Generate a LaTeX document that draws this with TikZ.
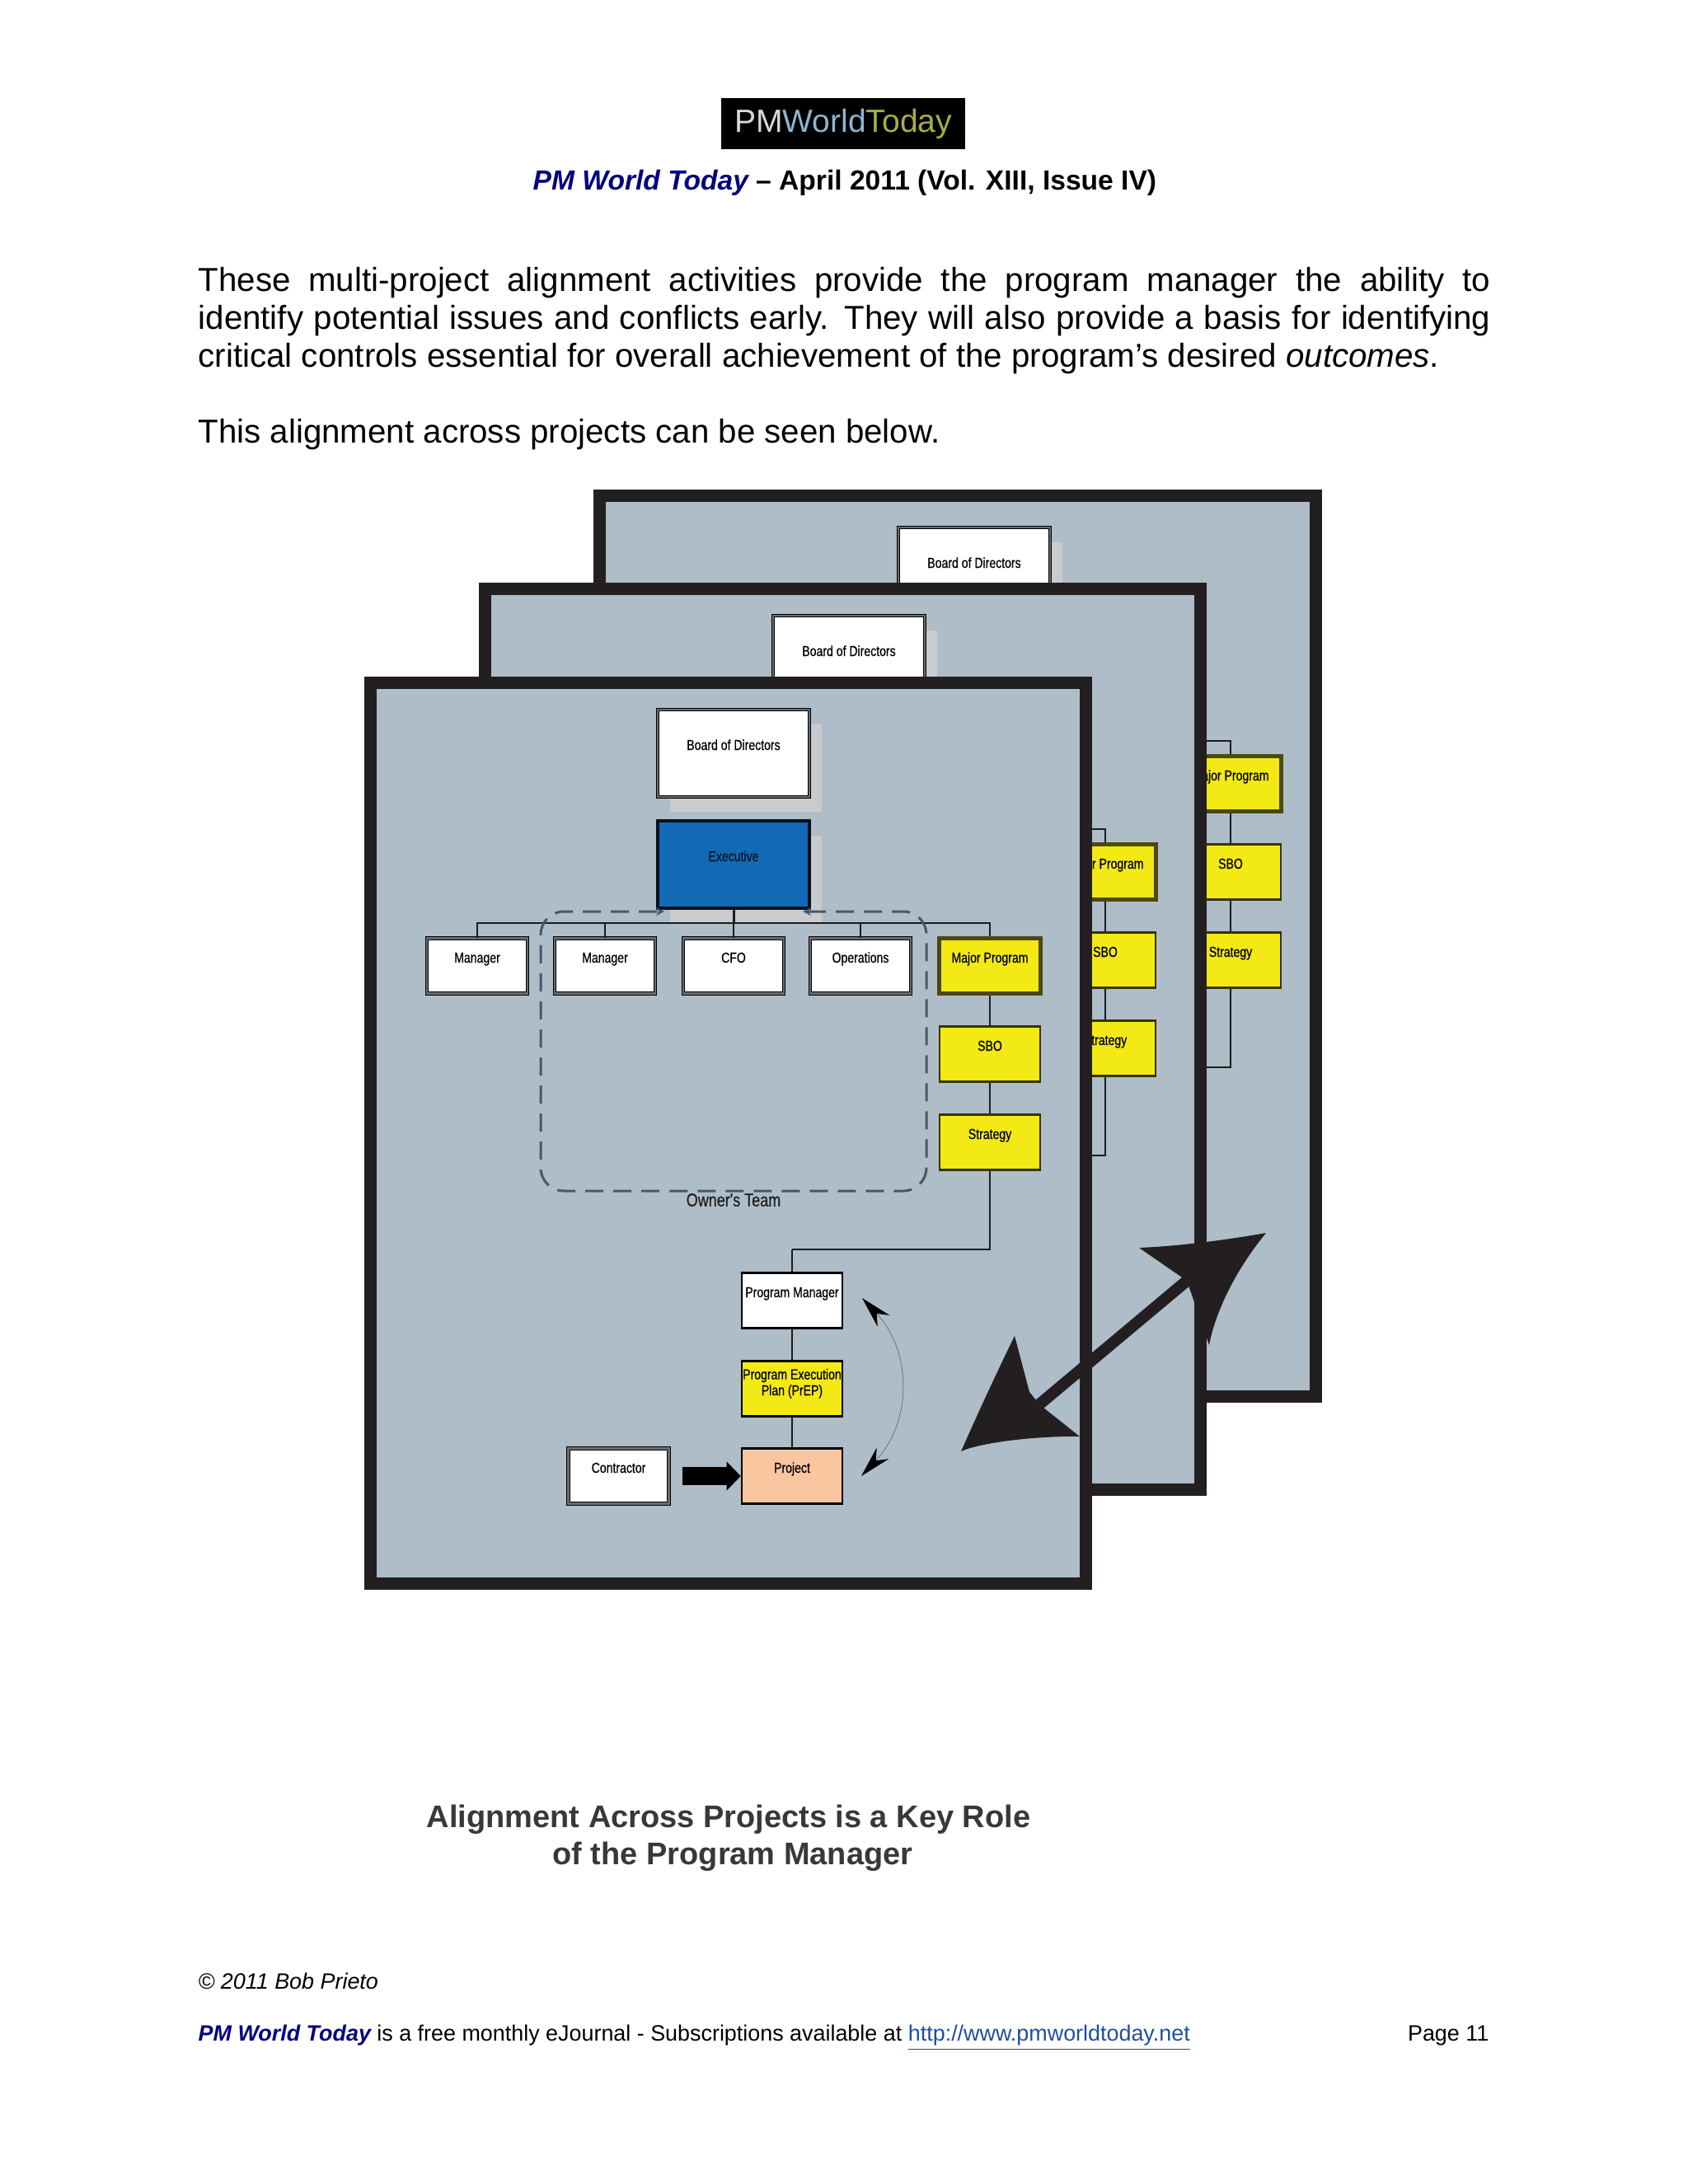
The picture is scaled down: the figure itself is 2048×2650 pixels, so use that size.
\documentclass[tikz,border=0pt]{standalone}
\usepackage{fontspec}
\setmainfont{Liberation Sans}
\newfontfamily\orgfont[FakeStretch=0.8,FakeBold=0.5]{Liberation Sans}
\usetikzlibrary{arrows.meta,shadows}
\definecolor{framedark}{HTML}{231F20}
\definecolor{sheetblue}{HTML}{AEBDC7}
\definecolor{boxgrey}{HTML}{6A6D70}
\definecolor{boxolive}{HTML}{4C4810}
\definecolor{boxyellow}{HTML}{F3E914}
\definecolor{execblue}{HTML}{1269B5}
\definecolor{projpeach}{HTML}{F9C6A0}
\definecolor{shadowgrey}{HTML}{C9CCCE}
\definecolor{teamdash}{HTML}{46586A}
\definecolor{titlenavy}{HTML}{000080}
\definecolor{linkblue}{HTML}{1F4E9E}
\definecolor{logoworld}{HTML}{8FB4D0}
\definecolor{logotoday}{HTML}{A9AF3F}
\begin{document}
\begin{tikzpicture}[x=0.01cm,y=-0.01cm,
  sheet/.style={draw=framedark,fill=sheetblue,line width=0.15cm,minimum width=8.68cm,minimum height=10.93cm,inner sep=0pt},
  orgbox/.style={inner sep=0pt,minimum width=1.22cm,minimum height=0.67cm,text height=0.15cm,text depth=0.23cm,font=\orgfont\fontsize{5}{5.5}\selectfont},
  whitebox/.style={orgbox,draw=black,double=boxgrey,double distance=0.028cm,fill=white,line width=0.01cm},
  majorbox/.style={orgbox,draw=boxolive,fill=boxyellow,line width=0.05cm},
  yellowbox/.style={orgbox,draw=boxolive!70!black,fill=boxyellow,line width=0.025cm},
  thinbox/.style={orgbox,draw=black,line width=0.025cm},
  bigbox/.style={whitebox,minimum width=1.84cm,minimum height=1.06cm,drop shadow={shadow xshift=0.15cm,shadow yshift=-0.18cm,fill=shadowgrey,opacity=1}},
  orgline/.style={draw=black!85!sheetblue,line width=0.022cm},
  pagetext/.style={anchor=base west,inner sep=0pt,font=\fontsize{11.45}{13}\selectfont},
  foottext/.style={anchor=base west,inner sep=0pt,font=\fontsize{7.65}{10}\selectfont}]
\useasboundingbox (0,0) rectangle (2048,2650);
% page head
\node[fill=black,minimum width=2.96cm,minimum height=0.61cm,inner sep=0pt,font=\fontsize{11.1}{12}\selectfont] (logo) at (1023,150) {\textcolor{black!15}{PM}\textcolor{logoworld}{World}\textcolor{logotoday}{Today}};
\node[pagetext,font=\bfseries\fontsize{9.55}{13}\selectfont] (title) at (646,230) {\textcolor{titlenavy}{\itshape PM World Today} -- April 2011 (Vol. XIII, Issue IV)};
\node[pagetext] (para) at (240,353) {\makebox[15.67cm][s]{These multi-project alignment activities provide the program manager the ability to}};
\node[pagetext] (parb) at (240,399) {\makebox[15.67cm][s]{identify potential issues and conflicts early. They will also provide a basis for identifying}};
\node[pagetext] (parc) at (240,445) {critical controls essential for overall achievement of the program’s desired \textit{outcomes}.};
\node[pagetext] (pard) at (240,537) {This alignment across projects can be seen below.};
% three sheets, back one first
\foreach \nm/\fx/\fy/\dx/\dy in {back/1162/1148/292/-221, mid/1022.5/1261/140/-114, front/883.5/1375/0/0} {
  \node[sheet] (sheet\nm) at (\fx,\fy) {};
  \begin{scope}[shift={(\dx,\dy)}]
    \node[bigbox] (board\nm) at (890,914) {Board of Directors};
    \coordinate (bus\nm) at (890,1120);
    \coordinate (jog\nm) at (961,1516);
    \node[majorbox] (major\nm) at (1201,1172) {Major Program};
    \node[yellowbox] (sbo\nm) at (1201,1279) {SBO};
    \node[yellowbox] (strategy\nm) at (1201,1386) {Strategy};
    \draw[orgline] (major\nm.north) |- (bus\nm);
    \draw[orgline] (major\nm) -- (sbo\nm);
    \draw[orgline] (sbo\nm) -- (strategy\nm);
    \draw[orgline] (strategy\nm.south) |- (jog\nm);
  \end{scope}
}
% front sheet only
\node[bigbox,draw=black!85!execblue,double=black!85!execblue,fill=execblue,text=black!80!execblue] (exec) at (890,1049) {Executive};
\foreach \nm/\lbl/\xx in {mana/Manager/579, manb/Manager/734, cfo/CFO/890, ops/Operations/1044} {
  \node[whitebox] (\nm) at (\xx,1172) {\lbl};
  \draw[orgline] (\nm.north) |- (busfront);
}
\draw[orgline,line width=0.03cm] (exec.south) -- (busfront);
\coordinate (teama) at (806,1106);
\coordinate (teamb) at (974,1106);
\draw[draw=teamdash,line width=0.03cm,dash pattern=on 0.22cm off 0.12cm,rounded corners=0.28cm,{Stealth[length=0.1cm,width=0.1cm]}-{Stealth[length=0.1cm,width=0.1cm]}] (teamb) -- (1124,1106) -- (1124,1445) -- (656,1445) -- (656,1106) -- (teama);
\node[inner sep=0pt,text=framedark,font=\orgfont\fontsize{6.4}{7}\selectfont] (team) at (890,1456) {Owner's Team};
\node[thinbox,fill=white] (pm) at (961,1578) {Program Manager};
\node[thinbox,fill=boxyellow,text height=0.3cm,text depth=0.14cm,align=center] (prep) at (961,1685) {Program Execution\\Plan (PrEP)};
\node[thinbox,fill=projpeach] (project) at (961,1791) {Project};
\node[whitebox] (contractor) at (750.5,1791) {Contractor};
\draw[orgline] (jogfront) -- (pm.north);
\draw[orgline] (pm) -- (prep);
\draw[orgline] (prep) -- (project);
\draw[line width=0.22cm,shorten <=0.16cm,-{Triangle[length=0.17cm,width=0.34cm]}] (contractor.east) -- (project.west);
% cycle arrow beside the project column
\coordinate (cyclea) at (1046,1575);
\coordinate (cycleb) at (1045,1791);
\draw[draw=black!55,line width=0.008cm,{Stealth[length=0.38cm,width=0.2cm,black]}-{Stealth[length=0.38cm,width=0.2cm,black]}] (cyclea) .. controls (1107,1640) and (1107,1725) .. (cycleb);
% big arrow across the sheets
\coordinate (bigupper) at (1440,1554);
\coordinate (biglower) at (1261,1704);
\draw[draw=framedark,line width=0.14cm] (biglower) -- (bigupper);
\fill[framedark] (1536,1496) .. controls (1485,1505) and (1430,1512) .. (1382,1514) -- (bigupper) -- (1467,1632) .. controls (1475,1590) and (1500,1540) .. cycle;
\fill[framedark] (1166,1761) .. controls (1186,1716) and (1206,1672) .. (1231,1621) -- (1249,1689) -- (biglower) -- (1310,1743) .. controls (1260,1742) and (1190,1750) .. cycle;
% caption and foot
\node[inner sep=0pt,align=center,text=black!78,font=\bfseries\fontsize{10.8}{12.8}\selectfont] (caption) at (884,2230) {Alignment Across Projects is a Key Role\\\hspace*{0.1cm}of the Program Manager};
\node[foottext,font=\itshape\fontsize{7.65}{10}\selectfont] (copyright) at (240,2413) {© 2011 Bob Prieto};
\node[foottext] (footline) at (240,2476) {\textcolor{titlenavy}{\bfseries\itshape PM World Today} is a free monthly eJournal - Subscriptions available at \textcolor{linkblue}{\underline{http://www.pmworldtoday.net}}};
\node[foottext,anchor=base east] (pageno) at (1807,2476) {Page 11};
\end{tikzpicture}
\end{document}
